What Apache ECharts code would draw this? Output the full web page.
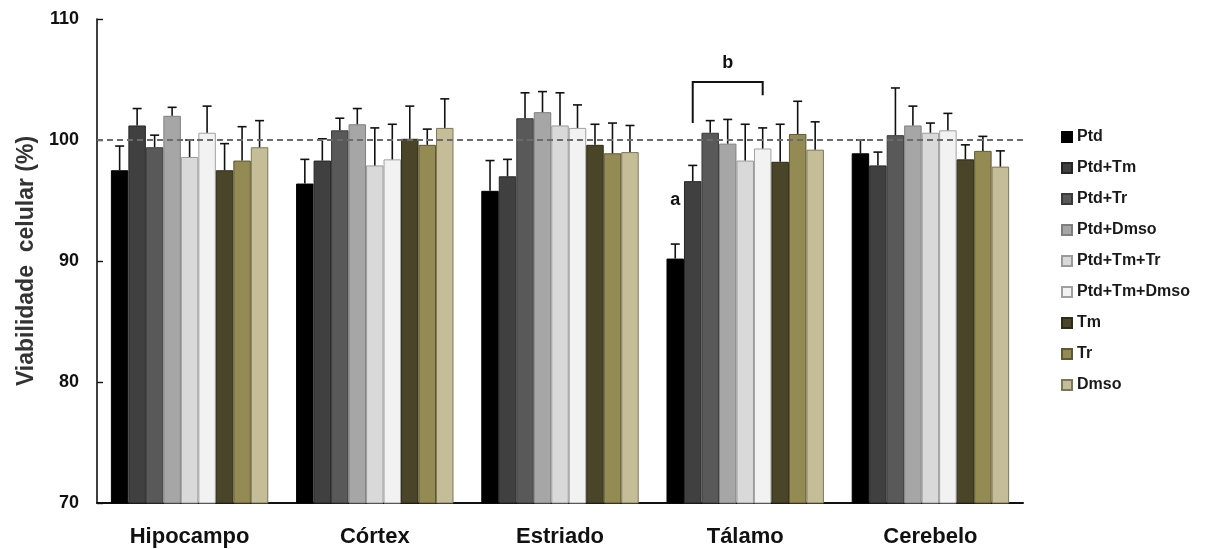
<!DOCTYPE html>
<html>
<head>
<meta charset="utf-8">
<script src="https://cdn.jsdelivr.net/npm/echarts@6/dist/echarts.min.js"></script>
<style>
  html, body { margin: 0; padding: 0; background: #fff; }
  #chart { width: 1209px; height: 549px; }
</style>
</head>
<body>
<div id="chart"></div>
<script>
// regiões do cérebro
var regioes = ['Hipocampo', 'Córtex', 'Estriado', 'Tálamo', 'Cerebelo'];

// grupos (ordem da legenda)
var grupos = ['Ptd', 'Ptd+Tm', 'Ptd+Tr', 'Ptd+Dmso', 'Ptd+Tm+Tr', 'Ptd+Tm+Dmso', 'Tm', 'Tr', 'Dmso'];

// média de viabilidade (%) por grupo, uma entrada por região
var ptd        = [97.5, 96.4, 95.8, 90.2, 98.9];
var ptdTm      = [101.2, 98.3, 97.0, 96.6, 97.9];
var ptdTr      = [99.4, 100.8, 101.8, 100.6, 100.4];
var ptdDmso    = [102.0, 101.3, 102.3, 99.7, 101.2];
var ptdTmTr    = [98.6, 97.9, 101.2, 98.3, 100.6];
var ptdTmDmso  = [100.6, 98.4, 101.0, 99.3, 100.8];
var tm         = [97.5, 100.1, 99.6, 98.2, 98.4];
var tr         = [98.3, 99.6, 98.9, 100.5, 99.1];
var dmso       = [99.4, 101.0, 99.0, 99.2, 97.8];

// erro padrão (só a parte de cima é desenhada)
var ptdErr       = [2.0, 2.0, 2.5, 1.2, 1.1];
var ptdTmErr     = [1.4, 1.8, 1.4, 1.3, 1.1];
var ptdTrErr     = [1.0, 1.0, 2.1, 1.0, 3.9];
var ptdDmsoErr   = [0.7, 1.3, 1.7, 2.0, 1.6];
var ptdTmTrErr   = [1.4, 3.1, 2.7, 3.0, 0.8];
var ptdTmDmsoErr = [2.2, 2.9, 1.9, 1.7, 1.4];
var tmErr        = [2.2, 2.7, 1.7, 3.1, 1.2];
var trErr        = [2.8, 1.3, 2.5, 2.7, 1.2];
var dmsoErr      = [2.2, 2.4, 2.2, 2.3, 1.3];

var yTicks = [70, 80, 90, 100, 110];
var controle = 100;

var medias = [ptd, ptdTm, ptdTr, ptdDmso, ptdTmTr, ptdTmDmso, tm, tr, dmso];
var erros = [ptdErr, ptdTmErr, ptdTrErr, ptdDmsoErr, ptdTmTrErr, ptdTmDmsoErr, tmErr, trErr, dmsoErr];
var cores = ['#000000', '#404040', '#595959', '#a6a6a6', '#d9d9d9', '#f2f2f2', '#4a4528', '#948a54', '#c4bd97'];
var bordas = ['#000000', '#262626', '#3a3a3a', '#7f7f7f', '#9a9a9a', '#a0a0a0', '#2e2b17', '#5f5832', '#7d7757'];

var GAP = 0.15;
var FONT = "'Liberation Sans', Arial, sans-serif";

// anotações do Tálamo: "a" sobre Ptd, colchete "b" de Ptd+Tm até Ptd+Tm+Dmso
var notaA = { regiao: 3, grupo: 0, valor: 95.0 };
var notaB = { regiao: 3, de: 1, ate: 5, topo: 104.8, pernaEsq: 101.4, pernaDir: 103.7, texto: 106.4 };

function barX(api, regiao, grupo) {
    var band = api.size([1, 0])[0];
    var w = band * (1 - GAP) / grupos.length;
    return api.coord([regiao, 0])[0] + (grupo - (grupos.length - 1) / 2) * w;
}

function errRender(idx) {
    return function (params, api) {
        var cat = api.value(0), v = api.value(1), e = api.value(2);
        var x = barX(api, cat, idx);
        var y0 = api.coord([cat, v])[1];
        var y1 = api.coord([cat, v + e])[1];
        var st = { stroke: '#111', lineWidth: 1.6 };
        return {
            type: 'group',
            children: [
                { type: 'line', shape: { x1: x, y1: y0, x2: x, y2: y1 }, style: st },
                { type: 'line', shape: { x1: x - 4.5, y1: y1, x2: x + 4.5, y2: y1 }, style: st }
            ]
        };
    };
}

var series = [];
grupos.forEach(function (g, i) {
    series.push({
        name: g,
        type: 'bar',
        data: medias[i],
        barGap: '0%',
        barCategoryGap: (GAP * 100) + '%',
        itemStyle: { color: cores[i], borderColor: bordas[i], borderWidth: 1 },
        z: 2
    });
});
grupos.forEach(function (g, i) {
    series.push({
        type: 'custom',
        renderItem: errRender(i),
        data: medias[i].map(function (v, j) { return [j, v, erros[i][j]]; }),
        encode: { x: 0, y: 1 },
        z: 4,
        silent: true
    });
});
series.push({
    type: 'line',
    data: [],
    z: 5,
    markLine: {
        silent: true,
        symbol: 'none',
        label: { show: false },
        lineStyle: { type: [6, 4], color: '#6b6b6b', width: 2 },
        data: [{ yAxis: controle }]
    }
});
series.push({
    type: 'custom',
    z: 6,
    silent: true,
    data: [[notaB.regiao, notaB.topo]],
    encode: { x: 0, y: 1 },
    renderItem: function (params, api) {
        var xa = barX(api, notaA.regiao, notaA.grupo);
        var ya = api.coord([notaA.regiao, notaA.valor])[1];
        var x1 = barX(api, notaB.regiao, notaB.de);
        var x2 = barX(api, notaB.regiao, notaB.ate);
        var yt = api.coord([notaB.regiao, notaB.topo])[1];
        var yl = api.coord([notaB.regiao, notaB.pernaEsq])[1];
        var yr = api.coord([notaB.regiao, notaB.pernaDir])[1];
        var yb = api.coord([notaB.regiao, notaB.texto])[1];
        var txt = { fill: '#111', font: 'bold 18px ' + FONT, align: 'center', verticalAlign: 'middle' };
        return {
            type: 'group',
            children: [
                { type: 'polyline', shape: { points: [[x1, yl], [x1, yt], [x2, yt], [x2, yr]] },
                  style: { stroke: '#111', lineWidth: 2, fill: null } },
                { type: 'text', x: xa, y: ya, style: Object.assign({ text: 'a' }, txt) },
                { type: 'text', x: (x1 + x2) / 2, y: yb, style: Object.assign({ text: 'b' }, txt) }
            ]
        };
    }
});

var chart = echarts.init(document.getElementById('chart'));
chart.setOption({
    animation: false,
    backgroundColor: '#ffffff',
    textStyle: { fontFamily: FONT },
    grid: { left: 97, right: 186, top: 19, bottom: 46, containLabel: false },
    legend: {
        data: grupos,
        orient: 'vertical',
        left: 1056,
        top: 124,
        itemWidth: 10,
        itemHeight: 10,
        itemGap: 15,
        itemTextGap: 4,
        icon: 'rect',
        textStyle: { fontFamily: FONT, fontWeight: 'bold', fontSize: 16, color: '#1a1a1a' }
    },
    xAxis: {
        type: 'category',
        data: regioes,
        axisLine: { lineStyle: { color: '#111', width: 2 } },
        axisTick: { show: false },
        axisLabel: { margin: 23, fontSize: 22, fontWeight: 'bold', color: '#111', fontFamily: FONT }
    },
    yAxis: {
        type: 'value',
        min: yTicks[0],
        max: yTicks[yTicks.length - 1],
        interval: 10,
        name: 'Viabilidade  celular (%)',
        nameLocation: 'middle',
        nameGap: 59,
        nameTextStyle: { fontSize: 23, fontWeight: 'bold', color: '#333', fontFamily: FONT },
        axisLine: { show: true, lineStyle: { color: '#111', width: 1.6 } },
        axisTick: { show: true, inside: true, length: 6, lineStyle: { color: '#111', width: 1.4 } },
        axisLabel: { margin: 18, fontSize: 18, fontWeight: 'bold', color: '#111', fontFamily: FONT },
        splitLine: { show: false }
    },
    series: series
});
</script>
</body>
</html>
